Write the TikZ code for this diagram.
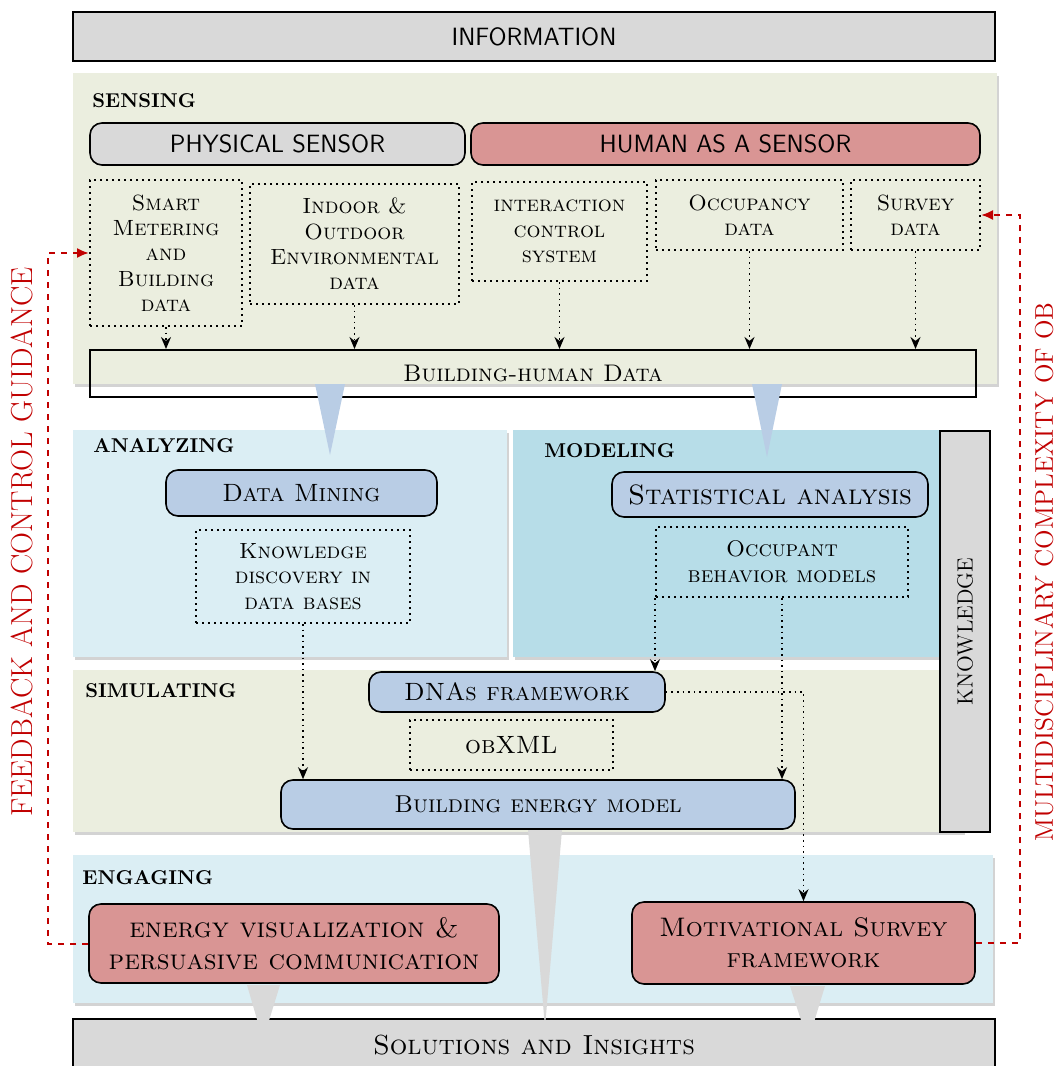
\documentclass[tikz,border=0pt]{standalone}
\usepackage{tikz}
\usetikzlibrary{positioning,arrows.meta,calc,shadows}

\definecolor{boxgray}{HTML}{D9D9D9}
\definecolor{senseg}{HTML}{EBEEDF}
\definecolor{lightb}{HTML}{DBEEF4}
\definecolor{modelb}{HTML}{B7DDE8}
\definecolor{stageb}{HTML}{B9CDE5}
\definecolor{humanr}{HTML}{D99594}
\definecolor{fbred}{HTML}{C00000}

\begin{document}
\begin{tikzpicture}[x=0.5pt,y=-0.5pt,
    % box from its left, top, right and bottom edge (in pixels)
    span/.style args={#1/#2/#3/#4}{at={({(#1+#3)/2},{(#2+#4)/2})},
        minimum width={(#3-#1)*0.5pt}, minimum height={(#4-#2)*0.5pt}},
    panel/.style={fill=#1, inner sep=0pt,
        drop shadow={shadow xshift=0.8pt, shadow yshift=-1.6pt, opacity=0.35}},
    graybox/.style={draw=black, line width=1pt, fill=boxgray, inner sep=0pt},
    roundbox/.style={draw=black, line width=0.8pt, fill=#1, rounded corners=6pt,
        inner sep=0pt, align=center},
    dotbox/.style={draw=black, dotted, line width=1pt, inner sep=0pt, align=center},
    head/.style={anchor=west, inner sep=0pt, font=\fontsize{10}{12}\selectfont\bfseries},
    sc/.style={font=\fontsize{#1}{\dimexpr #1pt*115/100\relax}\selectfont\scshape},
    sans/.style={font=\fontsize{12.5}{14}\selectfont\sffamily},
    flow/.style={dotted, line width=0.8pt, -{Stealth[length=6pt,width=5pt]}},
    fb/.style={dashed, fbred, line width=1pt, -{Latex[length=6pt,width=5pt]}},
    sidelabel/.style={rotate=90, text=fbred, inner sep=0pt}]

    \useasboundingbox (0,0) rectangle (1056,1066);

    % stage panels
    \node[panel=senseg, span=73/73/997/384] (sensing) {};
    \node[panel=lightb, span=73/430/507/657] (analyzing) {};
    \node[panel=modelb, span=513/430/963/657] (modeling) {};
    \node[panel=senseg, span=73/670/963/832] (simulating) {};
    \node[panel=lightb, span=73/855/993/1003] (engaging) {};

    \node[head] (senshd) at (92,101) {SENSING};
    \node[head] (anahd) at (93,446) {ANALYZING};
    \node[head] (modhd) at (544,451) {MODELING};
    \node[head] (simhd) at (85,691) {SIMULATING};
    \node[head] (enghd) at (82,878) {ENGAGING};

    % top and bottom bars
    \node[graybox, span=73/12/995/61, sans] (info) {INFORMATION};
    \node[graybox, span=73/1019/995/1072, sc=13.8] (solut) {Solutions and Insights};
    \node[graybox, span=940/431/990/832] (know) {};
    \node[rotate=90, font=\fontsize{11}{13}\selectfont] (knowtxt) at (know.center) {KNOWLEDGE};

    % sensing
    \node[roundbox=boxgray, span=90/123/465/165, sans] (phys) {PHYSICAL SENSOR};
    \node[roundbox=humanr, span=471/123/980/165, sans] (human) {HUMAN AS A SENSOR};
    \node[dotbox, span=90/180/242/326, sc=11] (smart) {Smart\\Metering\\and\\Building\\data};
    \node[dotbox, span=250/184/459/304, sc=11] (indoor) {Indoor \&\\Outdoor\\Environmental\\data};
    \node[dotbox, span=472/182/647/281, sc=11] (inter) {interaction\\control\\system};
    \node[dotbox, span=656/180/843/250, sc=11] (occup) {Occupancy\\data};
    \node[dotbox, span=851/180/980/250, sc=11] (survey) {Survey\\data};
    \node[draw=black, line width=1pt, inner sep=0pt, span=90/350/976/397, sc=12] (bhd) {Building-human Data};

    \foreach \src in {smart,indoor,inter,occup,survey}
        \draw[flow] (\src.south) -- (\src.south |- bhd.north);

    % analyzing and modeling
    \node[roundbox=stageb, span=166/470/437/516, sc=12.5] (mining) {Data Mining};
    \node[dotbox, span=196/530/410/623, sc=11] (kdd) {Knowledge\\discovery in\\data bases};
    \node[roundbox=stageb, span=612/472/928/517, sc=14] (stat) {Statistical analysis};
    \node[dotbox, span=656/527/908/597, sc=11.3] (obm) {Occupant\\behavior models};

    % simulating
    \node[roundbox=stageb, span=369/672/665/712, sc=12.5] (dna) {DNAs framework};
    \node[dotbox, span=410/720/613/770, sc=12.5] (obxml) {obXML};
    \node[roundbox=stageb, span=281/780/795/829, sc=12.2] (bem) {Building energy model};

    % engaging
    \node[roundbox=humanr, span=89/904/499/983, sc=14] (evis) {energy visualization \&\\persuasive communication};
    \node[roundbox=humanr, span=632/902/975/984, sc=13.4] (motiv) {Motivational Survey\\framework};

    % funnels between stages
    \fill[stageb] (315,384) -- (345,384) -- (330,455) -- cycle;
    \fill[stageb] (752,384) -- (782,384) -- (767,457) -- cycle;
    \fill[boxgray] (528,830) -- (562,830) -- (545,1027) -- cycle;
    \fill[boxgray] (247,985) -- (280,985) -- (263,1040) -- cycle;
    \fill[boxgray] (790,986) -- (825,986) -- (808,1042) -- cycle;

    % dotted flows
    \draw[flow] (kdd.south) -- (kdd.south |- bem.north);
    \draw[flow] (obm.south west) -- (obm.south west |- dna.north);
    \draw[flow] (obm.south) -- (obm.south |- bem.north);
    \draw[flow] (dna.east) -| (motiv.north);

    % feedback loops
    \coordinate (fbL) at (48,0);
    \coordinate (fbR) at (1020,0);
    \draw[fb] (evis.west) -| (fbL |- smart.west) -- (smart.west);
    \draw[fb] (motiv.east) -| (fbR |- survey.east) -- (survey.east);
    \node[sidelabel, font=\fontsize{15.2}{17}\selectfont] (fbtxt) at (22,542) {FEEDBACK AND CONTROL GUIDANCE};
    \node[sidelabel, font=\fontsize{12.8}{16}\selectfont] (mctxt) at (1044,572) {MULTIDISCIPLINARY COMPLEXITY OF OB};
\end{tikzpicture}
\end{document}
